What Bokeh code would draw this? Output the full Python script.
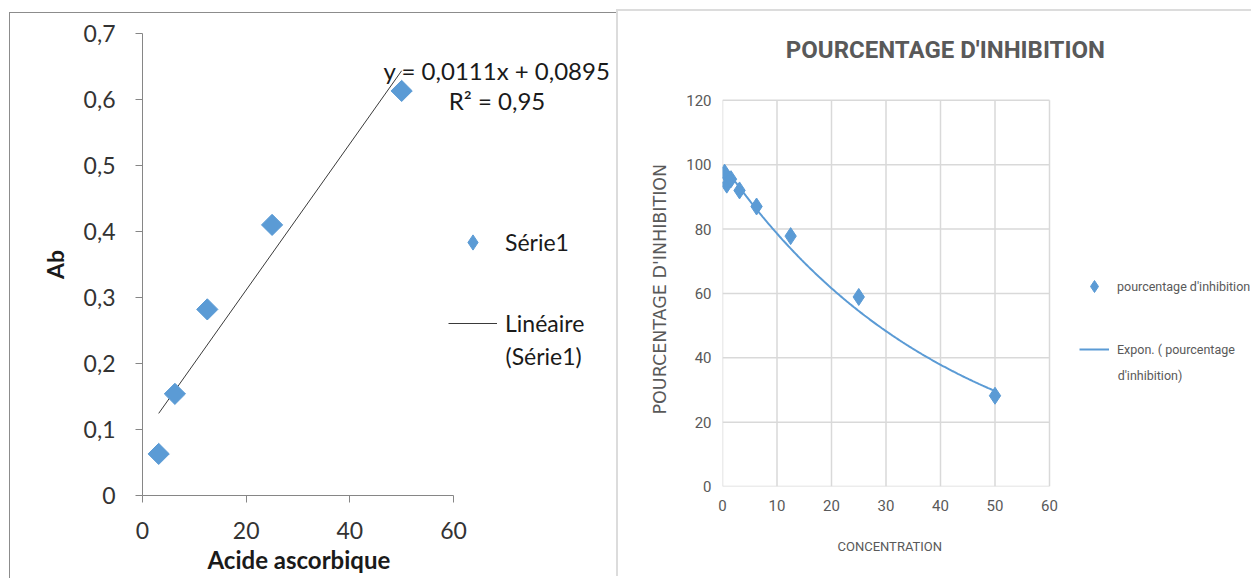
import numpy as np
from bokeh.plotting import figure
from bokeh.models import (Legend, LegendItem, Label, FixedTicker, CustomJSTickFormatter,
                          Range1d, Spacer, Title)
from bokeh.layouts import row, column
from bokeh.embed import file_html
from bokeh.resources import INLINE

# ---------------- data ----------------
# Left chart: absorbance of ascorbic acid standard
acide_conc = [3.125, 6.25, 12.5, 25, 50]
absorbance = [0.063, 0.154, 0.282, 0.410, 0.613]
left_xticks = [0, 20, 40, 60]
left_yticks = [0, 0.1, 0.2, 0.3, 0.4, 0.5, 0.6, 0.7]
equation_text = "y = 0,0111x + 0,0895"
r2_text = "R² = 0,95"

# Right chart: inhibition percentage
inhib_conc = [0.39, 0.78, 1.56, 3.125, 6.25, 12.5, 25, 50]
inhib_pct = [97.5, 93.8, 95.5, 92.0, 87.0, 77.8, 58.9, 28.2]
right_xticks = [0, 10, 20, 30, 40, 50, 60]
right_yticks = [0, 20, 40, 60, 80, 100, 120]

BLUE = "#5b9bd5"
LFONT = "Lato"
RFONT = "Roboto"

# ---------------- left chart ----------------
# frame extended to the right so that the equation and legend are not clipped;
# the x axis itself is bounded to 0..60. The canvas runs a little past the window bottom.
left = figure(width=607, height=581, output_backend="svg", toolbar_location=None,
              x_range=Range1d(0, 60 * 475 / 311), y_range=Range1d(0, 0.7),
              min_border_left=132, min_border_right=0, min_border_top=20, min_border_bottom=99,
              styles={"border-left": "1px solid #8c8c8c", "border-top": "1px solid #8c8c8c"})
left.outline_line_color = None
left.grid.visible = False

sl = np.polyfit(acide_conc, absorbance, 1)
fx = np.array([min(acide_conc), max(acide_conc)])
lin = left.line(fx, np.polyval(sl, fx), line_color="#3a3a3a", line_width=1)
# diamond renderer (used for the legend swatch) lies fully under the rotated squares
pts_leg = left.scatter(acide_conc, absorbance, marker="diamond", size=19,
                       fill_color=BLUE, line_color=BLUE)
pts = left.scatter(acide_conc, absorbance, marker="square", angle=np.pi / 4, size=15,
                   fill_color=BLUE, line_color=BLUE)

for ax in (left.xaxis[0], left.yaxis[0]):
    ax.axis_line_color = "#868686"
    ax.major_tick_line_color = "#868686"
    ax.major_tick_out = 7
    ax.major_tick_in = 0
    ax.minor_tick_line_color = None
    ax.major_label_text_font = LFONT
    ax.major_label_text_font_size = "23px"
    ax.major_label_text_color = "#333333"
    ax.axis_label_text_font = LFONT
    ax.axis_label_text_font_size = "23px"
    ax.axis_label_text_font_style = "bold"
    ax.axis_label_text_color = "#1a1a1a"

left.xaxis.bounds = (0, 60)
left.xaxis.ticker = FixedTicker(ticks=left_xticks)
left.yaxis.ticker = FixedTicker(ticks=left_yticks)
left.yaxis.formatter = CustomJSTickFormatter(
    code="return (Math.round(tick*10)/10).toString().replace('.', ',');")
left.yaxis.axis_label = "Ab"
left.yaxis.major_label_standoff = 20
left.yaxis.axis_label_standoff = 12
left.xaxis.major_label_standoff = 19

left.add_layout(Title(text="Acide ascorbique", align="left", offset=65, standoff=5,
                      vertical_align="middle", text_font=LFONT, text_font_size="24px",
                      text_font_style="bold", text_color="#1a1a1a"), "below")

left.add_layout(Label(x=68.4, y=0.644, text=equation_text, text_font=LFONT, text_font_size="24px",
                      text_color="#1a1a1a", text_align="center", text_baseline="middle"))
left.add_layout(Label(x=68.4, y=0.598, text=r2_text, text_font=LFONT, text_font_size="24px",
                      text_color="#1a1a1a", text_align="center", text_baseline="middle"))

leg_l = Legend(items=[LegendItem(label="Série1", renderers=[pts_leg]),
                      LegendItem(label="Linéaire", renderers=[lin])],
               location=(306, 153), orientation="vertical",
               label_text_font=LFONT, label_text_font_size="23px", label_text_color="#1a1a1a",
               glyph_width=49, glyph_height=38, label_standoff=8, spacing=43,
               padding=0, margin=0, border_line_color=None, background_fill_alpha=0)
left.add_layout(leg_l, "center")
left.add_layout(Label(x=70.03, y=0.212, text="(Série1)", text_font=LFONT, text_font_size="23px",
                      text_color="#1a1a1a", text_align="left", text_baseline="middle"))

# ---------------- right chart ----------------
# frame extended right and up (title and legend inside); grid drawn from the tick lists
right = figure(width=635, height=567, output_backend="svg", toolbar_location=None,
               x_range=Range1d(0, 60 * 531 / 327), y_range=Range1d(0, 120 * 476 / 387),
               min_border_left=104, min_border_right=0, min_border_top=0, min_border_bottom=91,
               styles={"border-left": "2px solid #dcdcdc", "border-top": "2px solid #dcdcdc"})
right.outline_line_color = None
right.grid.visible = False

gx0, gx1 = min(right_xticks), max(right_xticks)
gy0, gy1 = min(right_yticks), max(right_yticks)
right.segment(x0=right_xticks, y0=[gy0] * len(right_xticks), x1=right_xticks,
              y1=[gy1] * len(right_xticks), line_color="#d9d9d9", line_width=1.5)
right.segment(x0=[gx0] * len(right_yticks), y0=right_yticks, x1=[gx1] * len(right_yticks),
              y1=right_yticks, line_color="#d9d9d9", line_width=1.5)

xs = np.array(inhib_conc)
ys = np.array(inhib_pct)
b, lna = np.polyfit(xs, np.log(ys), 1)
cx = np.linspace(xs.min(), xs.max(), 200)
expo = right.line(cx, np.exp(lna) * np.exp(b * cx), line_color=BLUE, line_width=2)
rpts = right.scatter(inhib_conc, inhib_pct, marker="diamond", size=17,
                     fill_color=BLUE, line_color=BLUE)

right.xaxis.bounds = (gx0, gx1)
right.yaxis.bounds = (gy0, gy1)
right.xaxis.ticker = FixedTicker(ticks=right_xticks)
right.yaxis.ticker = FixedTicker(ticks=right_yticks)
for ax in (right.xaxis[0], right.yaxis[0]):
    ax.axis_line_color = None
    ax.major_tick_line_color = None
    ax.minor_tick_line_color = None
    ax.major_label_text_font = RFONT
    ax.major_label_text_font_size = "15px"
    ax.major_label_text_color = "#595959"
right.xaxis.major_label_standoff = 7
right.yaxis.major_label_standoff = 5

right.add_layout(Title(text="CONCENTRATION", align="left", offset=115, standoff=48,
                       vertical_align="middle", text_font=RFONT, text_font_size="13px",
                       text_font_style="normal", text_color="#595959"), "below")
right.add_layout(Title(text="POURCENTAGE D'INHIBITION", align="left", offset=72, standoff=26,
                       vertical_align="middle", text_font="DejaVu Sans", text_font_size="17.5px",
                       text_font_style="normal", text_color="#595959"), "left")

right.add_layout(Label(x=40.9, y=135.5, text="POURCENTAGE D'INHIBITION", text_font=RFONT,
                       text_font_size="24px", text_font_style="bold", text_color="#595959",
                       text_align="center", text_baseline="middle"))

leg_r = Legend(items=[LegendItem(label="pourcentage d'inhibition", renderers=[rpts]),
                      LegendItem(label="Expon. ( pourcentage", renderers=[expo])],
               location=(357, 122), orientation="vertical",
               label_text_font=RFONT, label_text_font_size="12.5px", label_text_color="#595959",
               glyph_width=30, glyph_height=30, label_standoff=8, spacing=33,
               padding=0, margin=0, border_line_color=None, background_fill_alpha=0)
right.add_layout(leg_r, "center")
right.add_layout(Label(x=72.5, y=34.4, text="d'inhibition)", text_font=RFONT,
                       text_font_size="12.5px", text_color="#595959",
                       text_align="left", text_baseline="middle"))

layout = row(Spacer(width=9),
             column(Spacer(height=12), left, spacing=0),
             column(Spacer(height=9), right, spacing=0),
             spacing=0, styles={"max-height": "578px", "overflow": "hidden"})

open("out.html", "w").write(file_html(layout, INLINE))
